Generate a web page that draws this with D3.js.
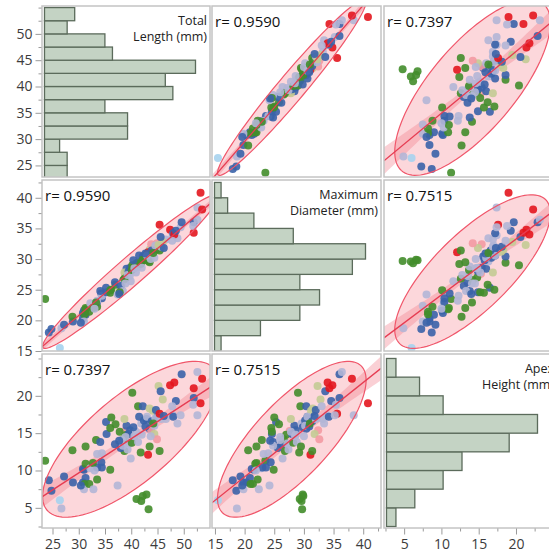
<!DOCTYPE html>
<html>
<head>
<meta charset="utf-8">
<script src="https://cdn.jsdelivr.net/npm/d3@7"></script>
<style>
body { margin: 0; background: #fff; }
text { font-family: "Open Sans", "Noto Sans", sans-serif; }
</style>
</head>
<body>
<svg id="chart" width="549" height="557"></svg>
<script>
// variable names, shown in the diagonal cells
var varLabels = [["Total", "Length (mm)"], ["Maximum", "Diameter (mm)"], ["Apex", "Height (mm)"]];
// correlation labels, as printed
var rLabels = [[null, "0.9590", "0.7397"], ["0.9590", null, "0.7515"], ["0.7397", "0.7515", null]];

// one entry per shell
var totalLength = [23.6,24.3,24.8,26.4,26.7,27.2,28.9,28.8,30.8,31.0,31.3,30.8,31.3,31.1,31.0,32.0,31.3,30.4,32.2,
  32.8,33.5,33.5,32.7,34.4,34.3,33.5,34.4,33.3,34.1,33.0,35.3,35.2,36.2,36.0,37.0,36.9,37.4,36.0,
  38.8,39.1,38.7,38.5,39.1,38.2,39.5,39.7,39.9,38.7,38.0,38.4,39.3,37.8,39.8,38.9,37.7,
  40.1,40.2,41.3,42.2,41.3,41.8,41.9,42.4,41.0,41.9,40.6,41.5,40.9,40.4,42.2,42.0,
  42.9,43.5,44.1,44.7,44.9,43.5,43.8,44.4,44.9,43.5,43.2,44.4,42.9,43.3,43.0,43.9,44.6,42.7,43.7,44.2,
  45.4,45.7,46.6,45.4,45.2,46.0,45.6,47.4,46.2,47.9,48.0,48.8,49.4,49.6,48.2,48.5,47.8,
  51.9,51.9,51.8,52.6,52.6,53.5,53.2];
var maxDiameter = [23.5,18.0,18.6,15.5,18.7,19.3,19.8,20.6,21.2,21.6,20.9,20.3,21.8,21.0,19.8,21.4,22.0,19.6,22.8,
  22.4,22.2,23.0,22.0,23.6,24.4,23.2,24.0,22.9,24.8,21.9,24.6,25.3,25.0,24.5,25.8,26.2,24.2,24.9,
  27.6,28.4,27.8,26.6,27.0,26.0,28.0,27.2,26.4,26.8,25.6,24.8,27.4,24.6,28.6,26.0,24.3,
  28.2,29.0,29.4,30.4,28.8,29.2,29.6,30.2,29.3,29.6,28.5,30.6,27.8,29.8,29.9,28.6,
  30.8,31.5,31.2,32.0,31.6,30.4,32.4,31.8,32.6,29.5,31.1,30.2,29.8,29.7,30.6,31.4,32.2,30.9,30.0,31.0,
  31.4,32.0,33.2,35.6,32.3,32.8,33.6,34.8,31.8,33.9,34.2,33.4,35.2,36.0,34.0,34.6,33.0,
  34.3,36.0,35.4,38.4,36.4,38.1,40.8];
var apexHeight = [11.3,8.7,7.3,6.0,4.9,9.2,8.4,12.7,10.2,10.1,9.0,8.4,10.9,8.2,7.5,8.2,13.2,8.0,10.3,
  7.5,8.8,10.4,11.0,10.4,11.1,12.2,12.3,14.1,13.8,10.0,14.9,16.5,17.1,15.7,16.2,13.5,8.0,10.1,
  15.3,16.0,16.9,14.2,14.8,14.1,14.9,13.6,11.6,12.6,13.0,13.3,12.8,15.2,15.4,14.5,14.0,
  13.7,20.4,18.6,18.6,13.8,12.4,16.3,16.7,6.2,5.9,14.6,17.2,15.2,15.8,6.6,14.8,
  16.9,18.3,18.0,18.1,17.1,15.6,15.4,14.9,14.2,13.2,12.1,16.0,6.8,4.8,17.2,16.6,17.0,15.9,14.6,16.3,
  12.6,16.9,16.9,17.6,21.3,19.5,20.6,21.4,17.3,17.4,17.2,16.3,17.4,22.9,21.8,19.3,18.6,
  21.0,19.7,18.8,17.4,23.2,22.3,19.0];
var group = ["G","B","B","C","L","B","B","G","B","B","B","B","G","G","L","G","G","B","L",
  "L","G","B","G","B","B","L","L","G","B","L","B","B","G","G","G","B","L","G",
  "P","B","O","G","G","L","B","L","L","G","B","L","L","G","B","L","B",
  "G","G","G","B","L","G","L","B","G","G","L","B","L","B","G","L",
  "B","O","O","B","B","B","P","O","P","G","R","L","G","G","L","B","L","B","L","G",
  "G","L","L","R","O","O","B","R","B","L","B","L","L","B","R","B","L",
  "R","B","L","L","L","R","R"];
var groupColors = { R: "#e3161e", P: "#f39aa2", B: "#3a63a8", L: "#b2b6d6", G: "#438d2b", O: "#c3cb93", C: "#a6d3ee" };

// histogram bin edges and labelled ticks per variable
var binEdges = [
  [22.5,25,27.5,30,32.5,35,37.5,40,42.5,45,47.5,50,52.5,55],
  [15,17.5,20,22.5,25,27.5,30,32.5,35,37.5,40,42.5],
  [2.5,5,7.5,10,12.5,15,17.5,20,22.5,25]];
var majorTicks = [[25,30,35,40,45,50], [15,20,25,30,35,40], [5,10,15,20]];

var cols = [{x: 42, w: 168}, {x: 212, w: 169}, {x: 384, w: 173}];
var rows = [{y: 6, h: 171}, {y: 180, h: 171}, {y: 354, h: 174}];
var xDomains = [[23.0, 55.0], [14.5, 43.0], [2.3, 25.5]];
var yDomains = [[22.8, 55.3], [15.0, 42.9], [2.3, 25.6]];
var histLen = 151;

var vars = [totalLength, maxDiameter, apexHeight];
var n = totalLength.length;

var svg = d3.select("#chart");
var defs = svg.append("defs");

var xs = cols.map(function(c, j) { return d3.scaleLinear().domain(xDomains[j]).range([c.x, c.x + c.w]); });
var ys = rows.map(function(r, i) { return d3.scaleLinear().domain(yDomains[i]).range([r.y + r.h, r.y]); });

function stats(xv, yv) {
  var mx = d3.mean(xv), my = d3.mean(yv), sxx = 0, syy = 0, sxy = 0;
  for (var k = 0; k < xv.length; k++) {
    sxx += (xv[k] - mx) * (xv[k] - mx);
    syy += (yv[k] - my) * (yv[k] - my);
    sxy += (xv[k] - mx) * (yv[k] - my);
  }
  return {mx: mx, my: my, sxx: sxx, syy: syy, sxy: sxy};
}

for (var i = 0; i < 3; i++) {
  for (var j = 0; j < 3; j++) {
    var c = cols[j], r = rows[i];
    var id = "clip" + i + j;
    defs.append("clipPath").attr("id", id)
      .append("rect").attr("x", c.x).attr("y", r.y).attr("width", c.w).attr("height", r.h);
    var g = svg.append("g").attr("clip-path", "url(#" + id + ")");

    if (i == j) {
      // histogram, bars run sideways
      var bins = d3.bin().domain([binEdges[i][0], binEdges[i][binEdges[i].length - 1]])
        .thresholds(binEdges[i].slice(1, -1))(vars[i]);
      var hx = d3.scaleLinear().domain([0, d3.max(bins, function(b) { return b.length; })])
        .range([c.x + 2.5, c.x + 2.5 + histLen]);
      var y = ys[i];
      g.selectAll("rect.bar").data(bins).enter().append("rect")
        .attr("class", "bar")
        .attr("x", hx(0))
        .attr("y", function(b) { return y(b.x1); })
        .attr("width", function(b) { return hx(b.length) - hx(0); })
        .attr("height", function(b) { return y(b.x0) - y(b.x1); })
        .attr("fill", "#c4d3c4")
        .attr("stroke", "#5b6b5b")
        .attr("stroke-width", 1.3);
      g.selectAll("text.vname").data(varLabels[i]).enter().append("text")
        .attr("x", c.x + c.w - 3)
        .attr("y", function(d, k) { return r.y + 19 + k * 16; })
        .attr("text-anchor", "end")
        .attr("font-size", 12.5)
        .attr("fill", "#222")
        .text(function(d) { return d; });
      continue;
    }

    var xv = vars[j], yv = vars[i], x = xs[j], y = ys[i];
    var s = stats(xv, yv);

    // 95% density ellipse
    var ca = Math.sqrt(5.991);
    var a = Math.sqrt(s.sxx / (n - 1));
    var b = (s.sxy / (n - 1)) / a;
    var dd = Math.sqrt(Math.max(s.syy / (n - 1) - b * b, 0));
    var ell = d3.range(0, 360, 3).map(function(t) {
      var u = Math.cos(t * Math.PI / 180), v = Math.sin(t * Math.PI / 180);
      return [x(s.mx + ca * a * u), y(s.my + ca * (b * u + dd * v))];
    });
    var ellPath = d3.line().curve(d3.curveLinearClosed)(ell);
    g.append("path").attr("d", ellPath).attr("fill", "#f8a0aa").attr("fill-opacity", 0.42).attr("stroke", "none");

    // fit line with confidence band of the mean
    var slope = s.sxy / s.sxx, icpt = s.my - slope * s.mx;
    var sse = s.syy - slope * s.sxy;
    var se = Math.sqrt(sse / (n - 2)), tq = 1.981;
    var xsamp = d3.range(0, 41).map(function(k) { return xDomains[j][0] + (xDomains[j][1] - xDomains[j][0]) * k / 40; });
    var band = d3.area()
      .x(function(d) { return x(d); })
      .y0(function(d) { return y(icpt + slope * d - tq * se * Math.sqrt(1 / n + (d - s.mx) * (d - s.mx) / s.sxx)); })
      .y1(function(d) { return y(icpt + slope * d + tq * se * Math.sqrt(1 / n + (d - s.mx) * (d - s.mx) / s.sxx)); });
    g.append("path").attr("d", band(xsamp)).attr("fill", "#f27888").attr("fill-opacity", 0.35);

    g.selectAll("circle").data(d3.range(n)).enter().append("circle")
      .attr("cx", function(k) { return x(xv[k]); })
      .attr("cy", function(k) { return y(yv[k]); })
      .attr("r", 4)
      .attr("fill", function(k) { return groupColors[group[k]]; })
      .attr("fill-opacity", 0.9);

    g.append("path").attr("d", ellPath).attr("fill", "none").attr("stroke", "#f0566a").attr("stroke-width", 1.2);
    g.append("line")
      .attr("x1", x(xDomains[j][0])).attr("y1", y(icpt + slope * xDomains[j][0]))
      .attr("x2", x(xDomains[j][1])).attr("y2", y(icpt + slope * xDomains[j][1]))
      .attr("stroke", "#e63c52").attr("stroke-width", 1.3);

    g.append("text")
      .attr("x", c.x + 3).attr("y", r.y + 21)
      .attr("font-size", 15)
      .attr("fill", "#111")
      .text("r= " + rLabels[i][j]);
  }
}

// panel frames
for (var i = 0; i < 3; i++) {
  for (var j = 0; j < 3; j++) {
    svg.append("rect").attr("x", cols[j].x).attr("y", rows[i].y)
      .attr("width", cols[j].w).attr("height", rows[i].h)
      .attr("fill", "none").attr("stroke", "#c4c4c4").attr("stroke-width", 1.5);
  }
}

function minorTicks(k, dom) {
  return d3.range(Math.ceil(dom[0] / 2.5) * 2.5, dom[1], 2.5)
    .filter(function(v) { return majorTicks[k].indexOf(v) < 0; });
}

function styleAxis(sel) {
  sel.select(".domain").remove();
  sel.selectAll(".tick line").attr("stroke", "#9a9a9a");
  sel.selectAll(".tick text").attr("fill", "#3c3c3c").attr("font-size", 14)
    .style("font-family", "'Open Sans','Noto Sans',sans-serif");
}

for (var i = 0; i < 3; i++) {
  var ax = svg.append("g").attr("transform", "translate(" + (cols[0].x - 0.5) + ",0)")
    .call(d3.axisLeft(ys[i]).tickValues(majorTicks[i]).tickSize(6).tickPadding(3).tickFormat(d3.format("d")));
  styleAxis(ax);
  var mx = svg.append("g").attr("transform", "translate(" + (cols[0].x - 0.5) + ",0)")
    .call(d3.axisLeft(ys[i]).tickValues(minorTicks(i, yDomains[i])).tickSize(3).tickFormat(""));
  styleAxis(mx);
}

var bottom = rows[2].y + rows[2].h;
for (var j = 0; j < 3; j++) {
  var ax = svg.append("g").attr("transform", "translate(0," + (bottom + 0.5) + ")")
    .call(d3.axisBottom(xs[j]).tickValues(majorTicks[j]).tickSize(6).tickPadding(5).tickFormat(d3.format("d")));
  styleAxis(ax);
  var mx = svg.append("g").attr("transform", "translate(0," + (bottom + 0.5) + ")")
    .call(d3.axisBottom(xs[j]).tickValues(minorTicks(j, xDomains[j])).tickSize(3).tickFormat(""));
  styleAxis(mx);
}
</script>
</body>
</html>
